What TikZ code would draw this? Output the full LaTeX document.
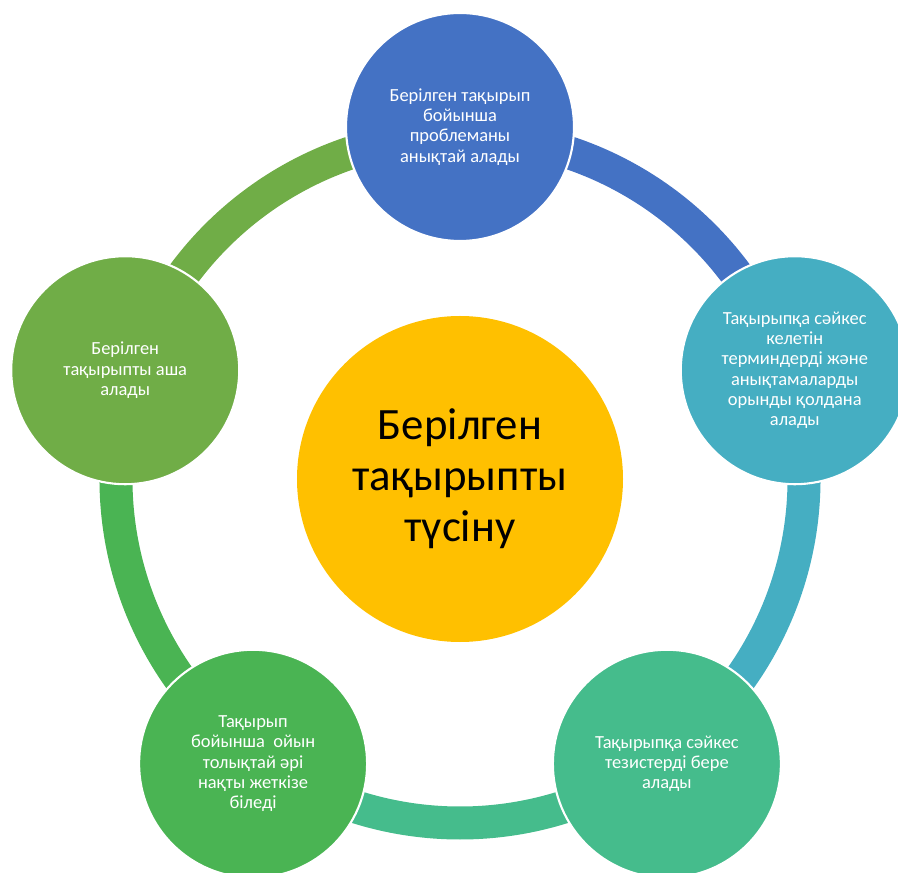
\documentclass[tikz,border=0pt]{standalone}
\usepackage{fontspec}
\setmainfont{Carlito}

\definecolor{topblue}{HTML}{4472C4}
\definecolor{rightteal}{HTML}{45AEC2}
\definecolor{brgreen}{HTML}{45BC8C}
\definecolor{blgreen}{HTML}{4AB453}
\definecolor{leftgreen}{HTML}{70AD47}
\definecolor{coreyellow}{HTML}{FFC000}

\tikzset{
  ring/.style={line width=0.66cm},
  petal/.style={circle, draw=white, line width=1.2pt, minimum size=4.56cm,
    inner sep=0pt, text=white, align=center,
    font=\fontsize{10.5}{11.5}\selectfont},
  core/.style={circle, fill=coreyellow, minimum size=6.52cm, inner sep=0pt,
    align=center, font=\fontsize{25.5}{29}\selectfont}
}

\begin{document}
\begin{tikzpicture}

    \useasboundingbox (-9.2,-7.86) rectangle (8.76,9.58);
    \clip (-9.2,-7.86) rectangle (8.76,9.58);

    % Сақина
    \coordinate (o) at (0,0);
    \foreach \a/\c in {90/topblue, 18/rightteal, -54/brgreen, -126/blgreen, 162/leftgreen}
      \draw[ring, draw=\c] ([shift={(\a:6.88)}]o) arc[start angle=\a, delta angle=-72, radius=6.88];

    % Орталық шеңбер
    \node[core] (core) at (o) {Берілген\\тақырыпты\\түсіну};

    % Шеңберлер
    \node[petal, fill=topblue] (top) at (90:7.04)
      {Берілген тақырып\\бойынша\\проблеманы\\анықтай алады};
    \node[petal, fill=rightteal] (right) at (18:7.04)
      {Тақырыпқа сәйкес\\келетін\\терминдерді және\\анықтамаларды\\орынды қолдана\\алады};
    \node[petal, fill=brgreen] (botright) at (-54:7.04)
      {Тақырыпқа сәйкес\\тезистерді бере\\алады};
    \node[petal, fill=blgreen] (botleft) at (-126:7.04)
      {Тақырып\\бойынша~ ойын\\толықтай әрі\\нақты жеткізе\\біледі};
    \node[petal, fill=leftgreen] (left) at (162:7.04)
      {Берілген\\тақырыпты аша\\алады};

\end{tikzpicture}
\end{document}
